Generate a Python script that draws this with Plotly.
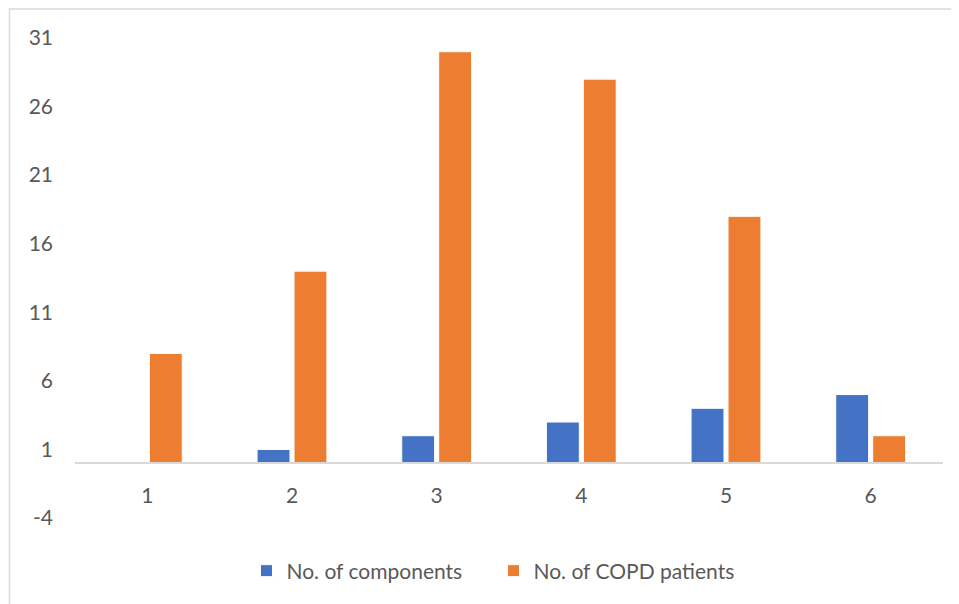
import plotly.graph_objects as go

categories = ["1", "2", "3", "4", "5", "6"]
components = [0, 1, 2, 3, 4, 5]
patients = [8, 14, 30, 28, 18, 2]
y_ticks = [-4, 1, 6, 11, 16, 21, 26, 31]
y_tick_labels = ["-4", "1", "6", "11", "16", "21", "26", "31"]

# page body has an 8px margin, so the figure is 8px smaller than the window
OFF = 8
W, H = 959 - OFF, 604 - OFF
ml, mr, mt, mb = 75 - OFF, 16, 38 - OFF, 86
pw, ph = W - ml - mr, H - mt - mb

def px(x):
    return (x - OFF - ml) / pw

def py(y):
    return (H - mb - (y - OFF)) / ph

font = "Lato, Open Sans, sans-serif"
txt = "#595959"
fs = 21

fig = go.Figure()
fig.add_trace(go.Bar(x=categories, y=components, name="No. of components",
                     marker=dict(color="#4472C4", line=dict(color="#FFFFFF", width=1))))
fig.add_trace(go.Bar(x=categories, y=patients, name="No. of COPD patients",
                     marker=dict(color="#ED7D31", line=dict(color="#FFFFFF", width=1))))

fig.update_layout(
    width=W, height=H,
    margin=dict(l=ml, r=mr, t=mt, b=mb),
    paper_bgcolor="white", plot_bgcolor="white",
    barmode="group", bargap=0.489, bargroupgap=0.11,
    font=dict(family=font, size=fs, color=txt),
    showlegend=True,
    legend=dict(orientation="h", x=px(493.5), xanchor="center", y=py(571), yanchor="middle",
                itemwidth=30, entrywidth=202,
                font=dict(family=font, size=fs, color=txt), itemclick=False),
    xaxis=dict(type="category", showgrid=False, showline=True, linecolor="#D9D9D9", linewidth=2,
               anchor="free", position=4 / 35, ticks="", ticklabelstandoff=14,
               tickfont=dict(family=font, size=fs, color=txt)),
    yaxis=dict(range=[-4, 31], tickvals=y_ticks, ticktext=y_tick_labels, showgrid=False,
               zeroline=False, showline=False, ticks="", ticklabelstandoff=21,
               tickfont=dict(family=font, size=fs, color=txt)),
    shapes=[dict(type="rect", xref="paper", yref="paper",
                 x0=px(9.5), x1=px(985), y0=py(630), y1=py(9),
                 line=dict(color="#D9D9D9", width=1.5), fillcolor="rgba(0,0,0,0)", layer="below")],
)

fig.write_html("out.html")
